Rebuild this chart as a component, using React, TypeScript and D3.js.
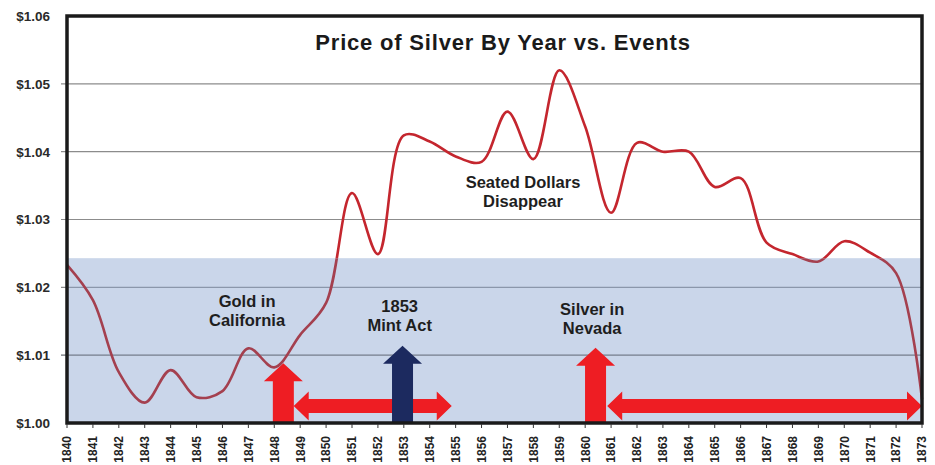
import React from 'react';
import * as d3 from 'd3';

const years = [1840, 1841, 1842, 1843, 1844, 1845, 1846, 1847, 1848, 1849, 1850, 1851, 1852, 1853, 1854, 1855, 1856, 1857, 1858, 1859, 1860, 1861, 1862, 1863, 1864, 1865, 1866, 1867, 1868, 1869, 1870, 1871, 1872, 1873];
const prices = [1.0233, 1.0181, 1.0075, 1.0030, 1.0078, 1.0038, 1.0047, 1.0110, 1.0082, 1.0130, 1.0177, 1.0339, 1.0249, 1.0424, 1.0415, 1.0393, 1.0385, 1.0459, 1.0389, 1.0520, 1.0437, 1.0310, 1.0413, 1.0400, 1.0400, 1.0348, 1.0361, 1.0266, 1.0249, 1.0238, 1.0268, 1.0251, 1.0221, 1.0035];
const yTicks = [1.0, 1.01, 1.02, 1.03, 1.04, 1.05, 1.06];
const yTickLabels = ['$1.00', '$1.01', '$1.02', '$1.03', '$1.04', '$1.05', '$1.06'];
const bandTop = 1.0243;

const riseYears = [1848.35, 1852.95, 1860.4];
const riseTops = [1.0088, 1.0114, 1.0111];
const riseKinds = ['red', 'navy', 'red'];
const spanStarts = [1848.75, 1860.85];
const spanEnds = [1854.85, 1873];
const spanLevel = 1.0025;

const labelLines = [['Gold in', 'California'], ['1853', 'Mint Act'], ['Silver in', 'Nevada'], ['Seated Dollars', 'Disappear']];
const labelYears = [1846.95, 1852.84, 1860.27, 1857.6];
const labelValues = [1.01711, 1.01637, 1.01593, 1.03466];
const title = 'Price of Silver By Year vs. Events';

const W = 935, H = 465;
const L = 67, R = 922, T = 16, B = 423;
const FONT = '"Liberation Sans", Arial, sans-serif';
const COLORS: Record<string, string> = { red: '#ee1d23', navy: '#1c2a5f' };

export default function App() {
  const x = d3.scaleLinear().domain([1840, 1873]).range([L, R]);
  const y = d3.scaleLinear().domain([1.0, 1.06]).range([B, T]);
  const line = d3.line<number>()
    .x((_, i) => x(years[i]))
    .y((d) => y(d))
    .curve(d3.curveCatmullRom.alpha(0.5));
  const d = line(prices) || '';
  const bandY = y(bandTop);

  const upArrow = (cx: number, top: number, bottom: number) => {
    const sw = 10.5, hw = 19.5, hl = 18;
    return `M${cx - sw},${bottom} L${cx - sw},${top + hl} L${cx - hw},${top + hl} L${cx},${top} L${cx + hw},${top + hl} L${cx + sw},${top + hl} L${cx + sw},${bottom} Z`;
  };
  const dblArrow = (x0: number, x1: number, cy: number) => {
    const sh = 7, hh = 14.5, hl = 15;
    return `M${x0},${cy} L${x0 + hl},${cy - hh} L${x0 + hl},${cy - sh} L${x1 - hl},${cy - sh} L${x1 - hl},${cy - hh} L${x1},${cy} L${x1 - hl},${cy + hh} L${x1 - hl},${cy + sh} L${x0 + hl},${cy + sh} L${x0 + hl},${cy + hh} Z`;
  };

  return (
    <svg width={W} height={H} style={{ position: 'absolute', left: 0, top: 0, background: '#fff' }} fontFamily={FONT}>
      <defs>
        <clipPath id="above"><rect x={0} y={0} width={W} height={bandY} /></clipPath>
        <clipPath id="below"><rect x={0} y={bandY} width={W} height={H - bandY} /></clipPath>
      </defs>
      {/* grid */}
      {yTicks.slice(1, -1).map((t) => (
        <line key={t} x1={L - 6} x2={R} y1={y(t)} y2={y(t)} stroke="#8c8c8c" strokeWidth={1.2} />
      ))}
      {/* band */}
      <rect x={L} y={bandY} width={R - L} height={B - bandY} fill="#8aa5d0" opacity={0.45} />
      <line x1={L - 6} x2={R} y1={y(1.01)} y2={y(1.01)} stroke="#7a7f8a" strokeWidth={1} opacity={0.7} />
      {/* price line */}
      <path d={d} fill="none" stroke="#c4262e" strokeWidth={2.6} clipPath="url(#above)" />
      <path d={d} fill="none" stroke="#a4404f" strokeWidth={2.6} clipPath="url(#below)" />
      {/* span arrows */}
      {spanStarts.map((s, i) => (
        <path key={'s' + i} d={dblArrow(x(s), x(spanEnds[i]), y(spanLevel))} fill={COLORS.red} />
      ))}
      {/* rise arrows */}
      {riseYears.map((yr, i) => (
        <path key={'r' + i} d={upArrow(x(yr), y(riseTops[i]), B)} fill={COLORS[riseKinds[i]]} />
      ))}
      {/* labels */}
      {labelLines.map((lines, i) => (
        <text key={'l' + i} x={x(labelYears[i])} y={y(labelValues[i])} textAnchor="middle" fontSize={16.5} fontWeight="bold" fill="#1e1e1e">
          {lines.map((ln, j) => (
            <tspan key={j} x={x(labelYears[i])} dy={j === 0 ? 0 : 19.5}>{ln}</tspan>
          ))}
        </text>
      ))}
      {/* title */}
      <text x={503} y={50} textAnchor="middle" fontSize={22} fontWeight="bold" letterSpacing={0.8} fill="#1a1a1a">{title}</text>
      {/* frame */}
      <rect x={L} y={T} width={R - L} height={B - T} fill="none" stroke="#1a1a1a" strokeWidth={3.5} />
      {/* y labels */}
      {yTicks.map((t, i) => (
        <text key={'y' + t} x={50} y={y(t)} dy="0.36em" textAnchor="end" fontSize={13.5} fontWeight="bold" fill="#2a2a2a">{yTickLabels[i]}</text>
      ))}
      {/* x ticks and labels */}
      {years.map((yr) => (
        <g key={'x' + yr}>
          <line x1={x(yr)} x2={x(yr)} y1={B + 1} y2={B + 5} stroke="#333" strokeWidth={1} />
          <text transform={`translate(${x(yr)},${B + 13}) rotate(-90)`} dy="0.36em" textAnchor="end" fontSize={12} fontWeight="bold" fill="#222">{yr}</text>
        </g>
      ))}
    </svg>
  );
}
